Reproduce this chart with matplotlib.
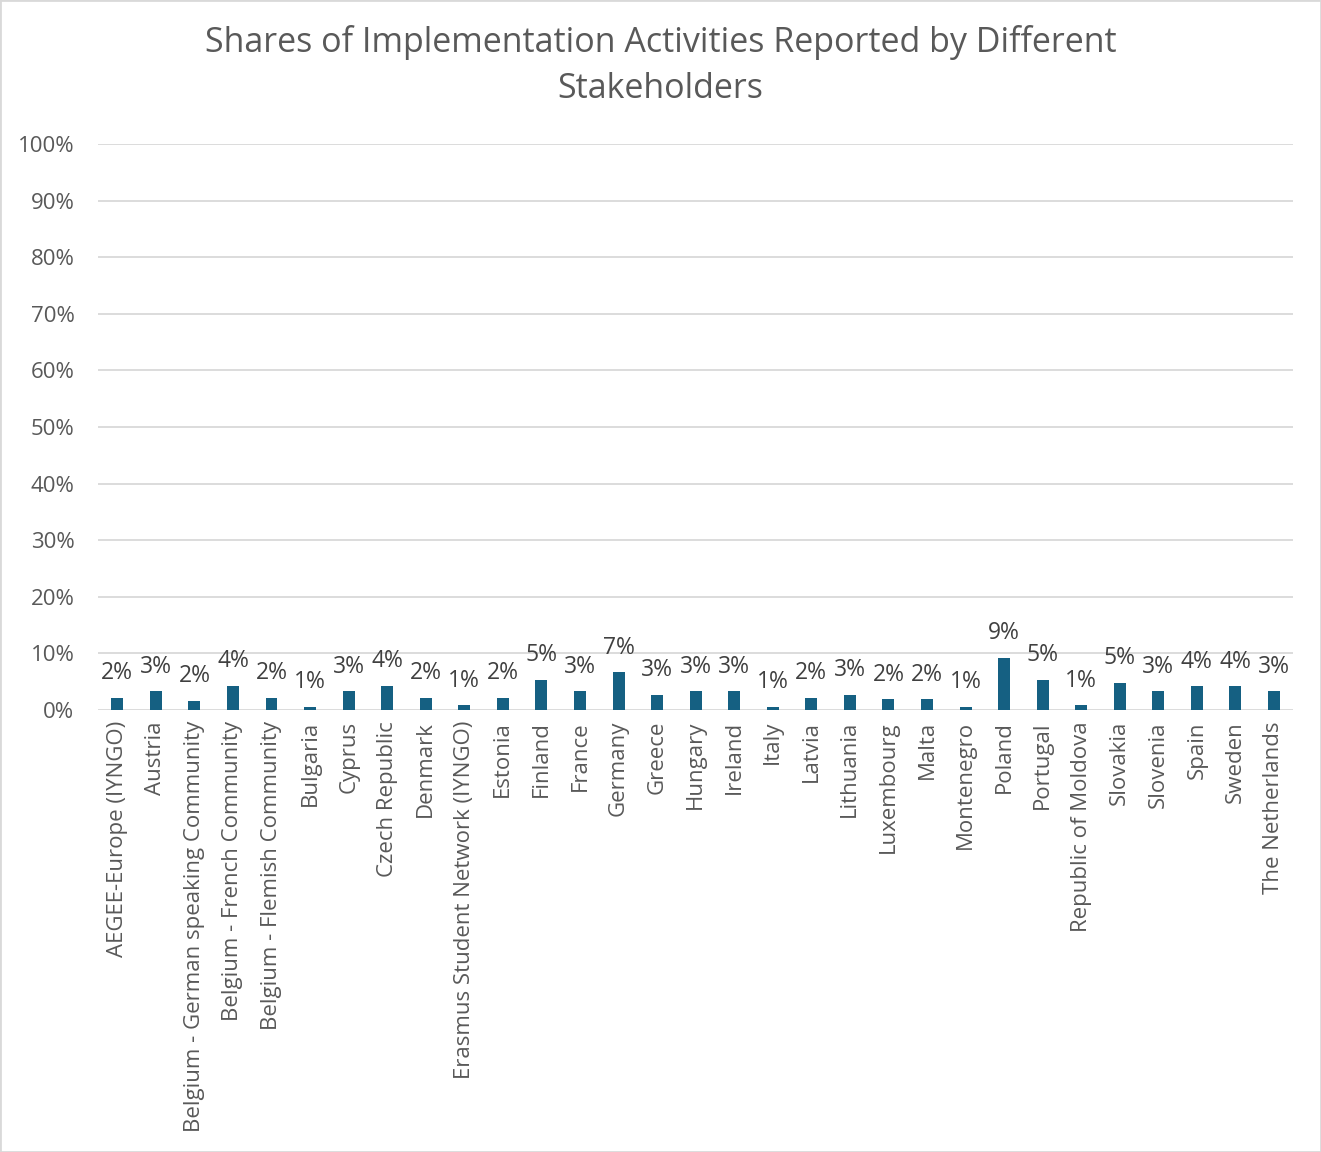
import matplotlib.pyplot as plt
import matplotlib.ticker as mticker
from matplotlib.patches import Rectangle

# stakeholders and their share of reported activities (%)
stakeholders = [
    "AEGEE-Europe (IYNGO)", "Austria", "Belgium - German speaking Community",
    "Belgium - French Community", "Belgium - Flemish Community", "Bulgaria",
    "Cyprus", "Czech Republic", "Denmark", "Erasmus Student Network (IYNGO)",
    "Estonia", "Finland", "France", "Germany", "Greece", "Hungary", "Ireland",
    "Italy", "Latvia", "Lithuania", "Luxembourg", "Malta", "Montenegro",
    "Poland", "Portugal", "Republic of Moldova", "Slovakia", "Slovenia",
    "Spain", "Sweden", "The Netherlands",
]
shares = [
    2.2, 3.3, 1.6, 4.3, 2.2, 0.6, 3.3, 4.3, 2.2, 0.8,
    2.2, 5.3, 3.3, 6.7, 2.7, 3.3, 3.3, 0.6, 2.2, 2.7,
    1.9, 1.9, 0.6, 9.2, 5.3, 0.8, 4.8, 3.3, 4.2, 4.2, 3.3,
]

BAR = "#156082"
GRID = "#d9d9d9"
TXT = "#595959"
FONT = "Open Sans"

plt.rcParams["font.family"] = [FONT, "DejaVu Sans"]

fig = plt.figure(figsize=(13.21, 11.52), dpi=100)
ax = fig.add_axes([0.0742, 0.3837, 0.9048, 0.4913])

x = list(range(len(stakeholders)))
vals = [v / 100 for v in shares]
ax.bar(x, vals, width=0.31, color=BAR, zorder=3)

for xi, v in zip(x, shares):
    ax.annotate(f"{round(v):.0f}%", (xi, v / 100), xytext=(0, 9),
                textcoords="offset points", ha="center", va="bottom",
                fontsize=16.5, color="#404040")

ax.set_xlim(-0.5, len(stakeholders) - 0.5)
ax.set_ylim(0, 1)
ax.yaxis.set_major_locator(mticker.MultipleLocator(0.1))
ax.yaxis.set_major_formatter(mticker.FuncFormatter(lambda v, p: f"{v*100:.0f}%"))
ax.grid(axis="y", color=GRID, linewidth=1.3, zorder=0)
ax.set_axisbelow(True)
for s in ax.spines.values():
    s.set_visible(False)
ax.tick_params(length=0, labelsize=16, labelcolor=TXT)
ax.tick_params(axis="y", pad=17)
ax.tick_params(axis="x", pad=8)
ax.set_xticks(x)
ax.set_xticklabels(stakeholders, rotation=90, ha="center", va="top")

fig.text(0.5, 0.978, "Shares of Implementation Activities Reported by Different\nStakeholders",
         ha="center", va="top", fontsize=24.5, color=TXT, linespacing=1.45)

fig.patches.append(Rectangle((0, 0), 1, 1, transform=fig.transFigure,
                             fill=False, edgecolor=GRID, linewidth=2))

fig.savefig("out.png", dpi=100, facecolor="white")
